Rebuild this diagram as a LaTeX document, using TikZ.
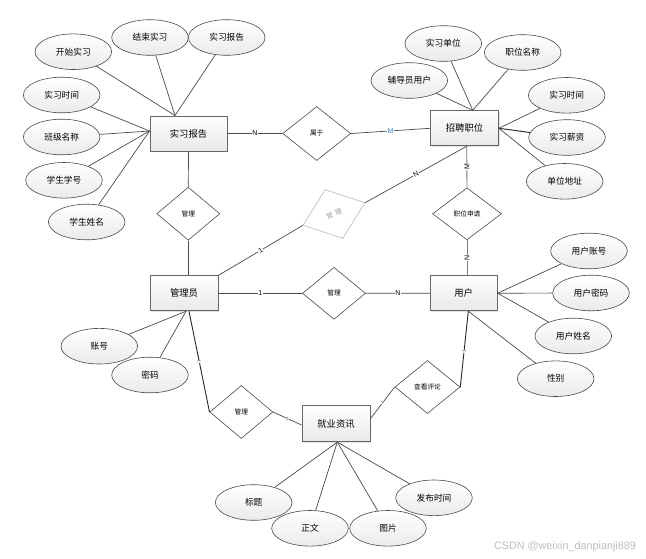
\documentclass[tikz,border=0pt]{standalone}
\usepackage{fontspec}
\newfontfamily\cjk{Noto Sans CJK SC}
\newfontfamily\lat{Liberation Sans}
\usetikzlibrary{shapes.geometric,shadows}
\definecolor{ln}{HTML}{4A4A4A}
\definecolor{lnl}{HTML}{7A7A7A}
\definecolor{bd}{HTML}{666666}
\definecolor{mblue}{HTML}{2F7FC0}
\tikzset{
  ent/.style={rectangle, draw=bd, line width=0.9pt, top color=white, bottom color=gray!18,
    minimum width=68pt, minimum height=35pt, inner sep=0pt,
    font=\cjk\fontsize{9.3}{9.3}\selectfont,
    drop shadow={shadow xshift=1pt, shadow yshift=-1pt, fill=gray!45, opacity=0.5}},
  attr/.style={ellipse, draw=ln, line width=0.6pt, top color=white, bottom color=gray!16,
    minimum width=76.6pt, minimum height=35.6pt, inner sep=0pt,
    font=\cjk\fontsize{8.7}{8.7}\selectfont},
  rel/.style={diamond, draw=ln, line width=0.6pt, fill=white, inner sep=0pt,
    minimum width=64pt, minimum height=53pt, font=\cjk\fontsize{6.7}{6.7}\selectfont},
  conn/.style={draw=ln, line width=0.7pt},
  connl/.style={draw=lnl, line width=0.9pt},
  lab/.style={fill=white, inner sep=0.6pt, font=\lat\fontsize{7}{7}\selectfont},
  tiny/.style={fill=white, inner sep=0.3pt, font=\lat\fontsize{4}{4}\selectfont, sloped},
}
\begin{document}
\begin{tikzpicture}[x=1pt,y=-1pt]
\useasboundingbox[fill=white] (0,0) rectangle (646,558);

% entities
\node[ent, minimum width=77pt] (r1) at (188.5,133.5) {实习报告};
\node[ent] (r2) at (464.5,128.3) {招聘职位};
\node[ent] (r3) at (184,293.3) {管理员};
\node[ent, minimum width=67pt] (r4) at (463.7,293.2) {用户};
\node[ent, minimum height=36pt] (r5) at (336,423.7) {就业资讯};

% relationships
\node[rel, minimum width=68pt, minimum height=54pt] (d1) at (316.7,133.5) {属于};
\node[rel, minimum width=63pt] (d2) at (188.3,213.7) {管理};
\node[rel, draw=gray!55, text=gray!75, minimum width=66pt, minimum height=52pt, rotate=20] (d3) at (334,214) {管\hspace{2.6pt}理};
\node[rel, minimum width=69pt, minimum height=52pt] (d4) at (467,213.8) {职位申请};
\node[rel, minimum width=63pt, minimum height=52pt] (d5) at (334,293.3) {管理};
\node[rel, minimum width=63pt] (d6) at (241.3,412) {管理};
\node[rel, minimum width=65pt] (d7) at (427.5,387) {查看评论};

% attributes
\node[attr] (a1) at (73.3,51.7) {开始实习};
\node[attr] (a2) at (150,37.5) {结束实习};
\node[attr] (a3) at (226.7,37.5) {实习报告};
\node[attr] (a4) at (61.7,95) {实习时间};
\node[attr] (a5) at (61.7,137) {班级名称};
\node[attr] (a6) at (64,180.3) {学生学号};
\node[attr] (a7) at (86.7,222) {学生姓名};

\node[attr] (b1) at (443.3,43.5) {实习单位};
\node[attr] (b2) at (522.7,52.5) {职位名称};
\node[attr] (b3) at (409.3,80.5) {辅导员用户};
\node[attr] (b4) at (566.7,95.3) {实习时间};
\node[attr] (b5) at (567,137.5) {实习薪资};
\node[attr] (b6) at (564.7,181.3) {单位地址};

\node[attr] (c1) at (589,251) {用户账号};
\node[attr] (c2) at (591,293) {用户密码};
\node[attr] (c3) at (573.3,336) {用户姓名};
\node[attr] (c4) at (555.7,378.7) {性别};

\node[attr] (e1) at (99.3,346.2) {账号};
\node[attr] (e2) at (150,375) {密码};

\node[attr] (f1) at (253.7,502.5) {标题};
\node[attr] (f2) at (310,528.3) {正文};
\node[attr] (f3) at (388,528.3) {图片};
\node[attr] (f4) at (434,497.8) {发布时间};

% attribute connectors
\foreach \a in {a1,a2,a3} \draw[conn] (\a) -- ([xshift=-13.5pt]r1.north);
\foreach \a in {a4,a5,a6,a7} \draw[conn] (\a) -- ([yshift=2.5pt]r1.west);
\foreach \a in {b1,b2,b3} \draw[conn] (\a) -- ([xshift=8.2pt]r2.north);
\foreach \a in {b4,b6} \draw[conn] (\a) -- (r2.east);
\draw[conn, line width=1pt, draw=black!80] (b5) -- (r2.east);
\foreach \a in {c1,c2,c3} \draw[conn] (\a) -- (r4.east);
\draw[conn] (c4) -- ([xshift=4.6pt]r4.south);
\foreach \a in {e1,e2} \draw[conn] (\a) -- ([xshift=2pt]r3.south);
\foreach \a in {f1,f2,f3,f4} \draw[conn] (\a) -- ([xshift=1.3pt]r5.south);

% relationship connectors
\draw[conn] (r1.east) -- node[lab] {N} (d1.west);
\draw[conn] (d1.east) -- node[lab, text=mblue] {M} (r2.west);
\draw[conn] (r1.south) -- (d2.north);
\draw[conn] (d2.south) -- ([xshift=4.3pt]r3.north);
\draw[connl] ([xshift=2.2pt]r2.south) -- node[lab, rotate=90] {M} (d4.north);
\draw[connl] (d4.south) -- node[lab, rotate=90] {N} ([xshift=3.3pt]r4.north);
\draw[conn] ([xshift=2.2pt]r2.south) -- node[lab, sloped] {N} (d3.east);
\draw[conn] (d3.west) -- node[lab, sloped] {1} (r3.north east);
\draw[conn] (r3.east) -- node[lab] {1} (d5.west);
\draw[conn] (d5.east) -- node[lab] {N} (r4.west);
\draw[conn, line width=0.9pt, draw=black!85] ([xshift=5pt]r3.south) -- node[tiny] {1} (d6.west);
\draw[conn] (d6.east) -- node[tiny] {1} ([yshift=-1.3pt]r5.west);
\draw[conn] ([yshift=5pt]r5.east) -- node[tiny] {1} (d7.west);
\draw[conn, line width=0.9pt, draw=black!85] ([xshift=4.6pt]r4.south) -- node[tiny, pos=0.53] {1} (d7.east);

% watermark
\node[text=gray!50, font=\lat\fontsize{10.8}{10.8}\selectfont, inner sep=0pt] (wm) at (565,547) {CSDN @weixin\_danpianji889};
\end{tikzpicture}
\end{document}
